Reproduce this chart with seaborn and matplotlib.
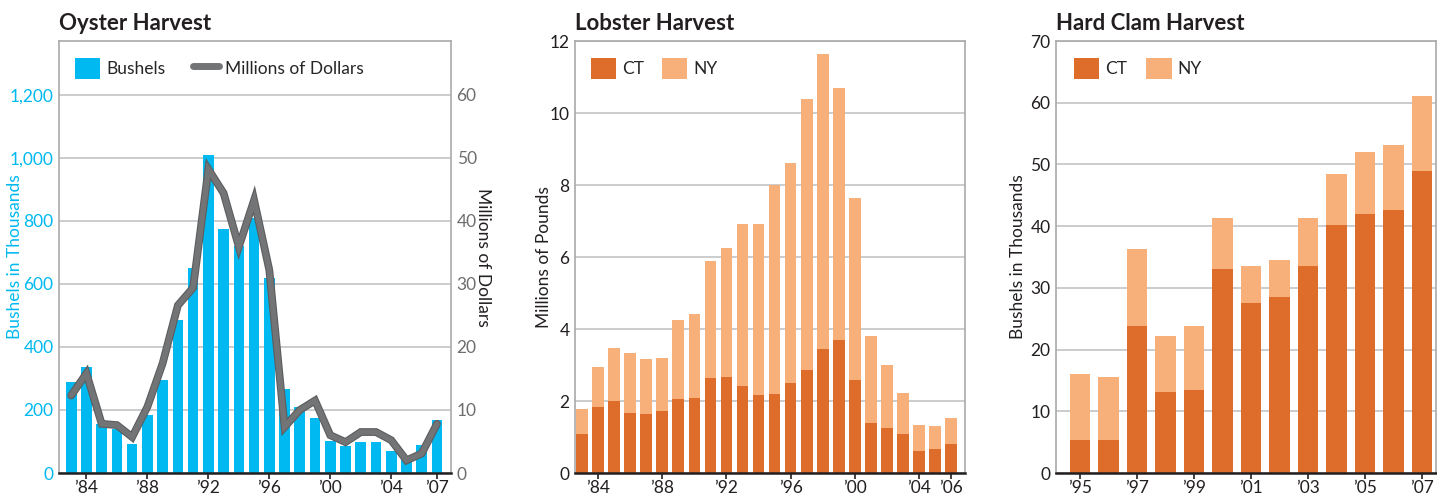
import matplotlib
matplotlib.use("Agg")
import matplotlib.pyplot as plt
import matplotlib.patheffects as pe
from matplotlib.patches import Patch
from matplotlib.lines import Line2D
import seaborn as sns
import pandas as pd

# --- data ---
oyster_years = list(range(1983, 2008))
oyster_bushels = [289, 336, 155, 141, 91, 183, 294, 485, 651, 1009, 774, 720, 808, 620,
                  266, 210, 175, 101, 86, 97, 97, 69, 45, 88, 167]
oyster_dollars = [12.3, 15.8, 7.8, 7.6, 5.7, 10.5, 17.4, 26.6, 29.4, 48.2, 44.4, 35.9, 43.3,
                  32.2, 7.3, 10.0, 11.5, 6.0, 4.9, 6.5, 6.5, 5.2, 2.0, 3.1, 7.8]
oyster_ticks = [1984, 1988, 1992, 1996, 2000, 2004, 2007]

lobster_years = list(range(1983, 2007))
lobster_total = [1.77, 2.94, 3.47, 3.33, 3.16, 3.19, 4.24, 4.41, 5.89, 6.25, 6.91, 6.91,
                 7.99, 8.61, 10.39, 11.64, 10.70, 7.64, 3.80, 2.99, 2.21, 1.33, 1.30, 1.52]
lobster_ct = [1.07, 1.83, 2.00, 1.66, 1.63, 1.71, 2.05, 2.08, 2.63, 2.66, 2.41, 2.16,
              2.20, 2.49, 2.85, 3.44, 3.69, 2.58, 1.38, 1.24, 1.07, 0.60, 0.66, 0.80]
lobster_ticks = [1984, 1988, 1992, 1996, 2000, 2004, 2006]

clam_years = list(range(1995, 2008))
clam_total = [16.1, 15.5, 36.3, 22.2, 23.8, 41.4, 33.5, 34.5, 41.4, 48.4, 52.0, 53.1, 61.1]
clam_ct = [5.3, 5.3, 23.8, 13.2, 13.4, 33.0, 27.5, 28.5, 33.5, 40.2, 41.9, 42.6, 48.9]
clam_ticks = [1995, 1997, 1999, 2001, 2003, 2005, 2007]

# --- style ---
sns.set_style("white")
plt.rcParams['font.family'] = ['Lato', 'DejaVu Sans']
plt.rcParams['font.size'] = 12

TEXT = '#231f20'
GRID = '#bcbec0'
FRAME = '#a7a9ac'
BLUE = '#00b9f0'
GREY_LINE = '#737476'
CT_COL = '#de6d2b'
NY_COL = '#f8b07a'
RIGHT_TXT = '#6d6e70'
FS = 12.5

W, H = 1437, 495
fig = plt.figure(figsize=(W / 100, H / 100), dpi=100)
bar_kw = dict(native_scale=True, saturation=1, edgecolor='none', linewidth=0)


def make_ax(left_px, right_px):
    top, bottom = 41, 473
    return fig.add_axes([left_px / W, (H - bottom) / H, (right_px - left_px) / W, (bottom - top) / H])


def style_ax(ax, ticks):
    ax.set_axisbelow(True)
    ax.yaxis.grid(True, color=GRID, linewidth=1.1)
    ax.xaxis.grid(False)
    for s in ('left', 'top', 'right'):
        ax.spines[s].set_color(FRAME)
        ax.spines[s].set_linewidth(1.2)
    ax.spines['bottom'].set_color(TEXT)
    ax.spines['bottom'].set_linewidth(1.8)
    ax.set_xticks(ticks)
    ax.set_xticklabels(['\u2019' + str(t)[2:] for t in ticks], fontsize=FS, color=TEXT)
    ax.tick_params(axis='x', bottom=True, length=4, width=1.2, color=TEXT, pad=1)
    ax.tick_params(axis='y', left=False, length=0, pad=4, labelsize=FS)
    ax.set_xlabel('')


def legend_box(ax, handles, labels, colsp, x0):
    ax.legend(handles, labels, loc='upper left', bbox_to_anchor=(x0, 0.985), ncol=2,
              frameon=False, handlelength=1.45, handleheight=1.45, handletextpad=0.35,
              columnspacing=colsp, fontsize=FS, borderaxespad=0.2)


# --- Oyster ---
ax1 = make_ax(59, 451)
oy = pd.DataFrame({'year': oyster_years, 'bushels': oyster_bushels, 'dollars': oyster_dollars})
sns.barplot(data=oy, x='year', y='bushels', color=BLUE, width=0.7, ax=ax1, **bar_kw)
ax1.set_xlim(1982.2, 2007.92)
ax1.set_ylim(0, 1371)
ax1.set_yticks(range(0, 1201, 200))
ax1.set_yticklabels([f'{v:,}' for v in range(0, 1201, 200)], color=BLUE)
style_ax(ax1, oyster_ticks)
ax1.set_ylabel('Bushels in Thousands', color=BLUE, fontsize=FS)
ax1.yaxis.set_label_coords(-0.092, 0.5)

ax2 = ax1.twinx()
sns.lineplot(data=oy, x='year', y='dollars', ax=ax2, color=GREY_LINE, linewidth=4.0,
             solid_joinstyle='miter',
             path_effects=[pe.Stroke(linewidth=5.6, foreground='#5c5d5f'), pe.Normal()])
ax2.set_ylim(0, 1371 / 20)
ax2.set_yticks(range(0, 61, 10))
ax2.set_yticklabels([str(v) for v in range(0, 61, 10)], color=RIGHT_TXT)
ax2.tick_params(axis='y', right=False, length=0, pad=4, labelsize=FS)
ax2.set_ylabel('Millions of Dollars', rotation=270, labelpad=10, color=TEXT, fontsize=FS)
ax2.set_xlabel('')
for s in ax2.spines.values():
    s.set_visible(False)
ax1.set_title('Oyster Harvest', loc='left', fontsize=16, fontweight='bold', color=TEXT, pad=8)
legend_box(ax2,
           [Patch(facecolor=BLUE, edgecolor='none'),
            Line2D([], [], color=GREY_LINE, linewidth=5, solid_capstyle='round')],
           ['Bushels', 'Millions of Dollars'], 1.6, 0.015)

# --- Lobster ---
ax3 = make_ax(575, 965)
lb = pd.DataFrame({'year': lobster_years, 'total': lobster_total, 'ct': lobster_ct})
sns.barplot(data=lb, x='year', y='total', color=NY_COL, width=0.73, ax=ax3, **bar_kw)
sns.barplot(data=lb, x='year', y='ct', color=CT_COL, width=0.73, ax=ax3, **bar_kw)
ax3.set_xlim(1982.56, 2006.87)
ax3.set_ylim(0, 12)
ax3.set_yticks(range(0, 13, 2))
ax3.set_yticklabels([str(v) for v in range(0, 13, 2)], color=TEXT)
style_ax(ax3, lobster_ticks)
ax3.set_ylabel('Millions of Pounds', color=TEXT, fontsize=FS)
ax3.yaxis.set_label_coords(-0.06, 0.5)
ax3.set_title('Lobster Harvest', loc='left', fontsize=16, fontweight='bold', color=TEXT, pad=8)
legend_box(ax3, [Patch(facecolor=CT_COL, edgecolor='none'), Patch(facecolor=NY_COL, edgecolor='none')],
           ['CT', 'NY'], 1.0, 0.015)

# --- Hard Clam ---
ax4 = make_ax(1056, 1436)
cl = pd.DataFrame({'year': clam_years, 'total': clam_total, 'ct': clam_ct})
sns.barplot(data=cl, x='year', y='total', color=NY_COL, width=0.73, ax=ax4, **bar_kw)
sns.barplot(data=cl, x='year', y='ct', color=CT_COL, width=0.73, ax=ax4, **bar_kw)
ax4.set_xlim(1994.16, 2007.49)
ax4.set_ylim(0, 70)
ax4.set_yticks(range(0, 71, 10))
ax4.set_yticklabels([str(v) for v in range(0, 71, 10)], color=TEXT)
style_ax(ax4, clam_ticks)
ax4.set_ylabel('Bushels in Thousands', color=TEXT, fontsize=FS)
ax4.yaxis.set_label_coords(-0.08, 0.5)
ax4.set_title('Hard Clam Harvest', loc='left', fontsize=16, fontweight='bold', color=TEXT, pad=8)
legend_box(ax4, [Patch(facecolor=CT_COL, edgecolor='none'), Patch(facecolor=NY_COL, edgecolor='none')],
           ['CT', 'NY'], 1.1, 0.02)

fig.savefig('out.png', dpi=100)
